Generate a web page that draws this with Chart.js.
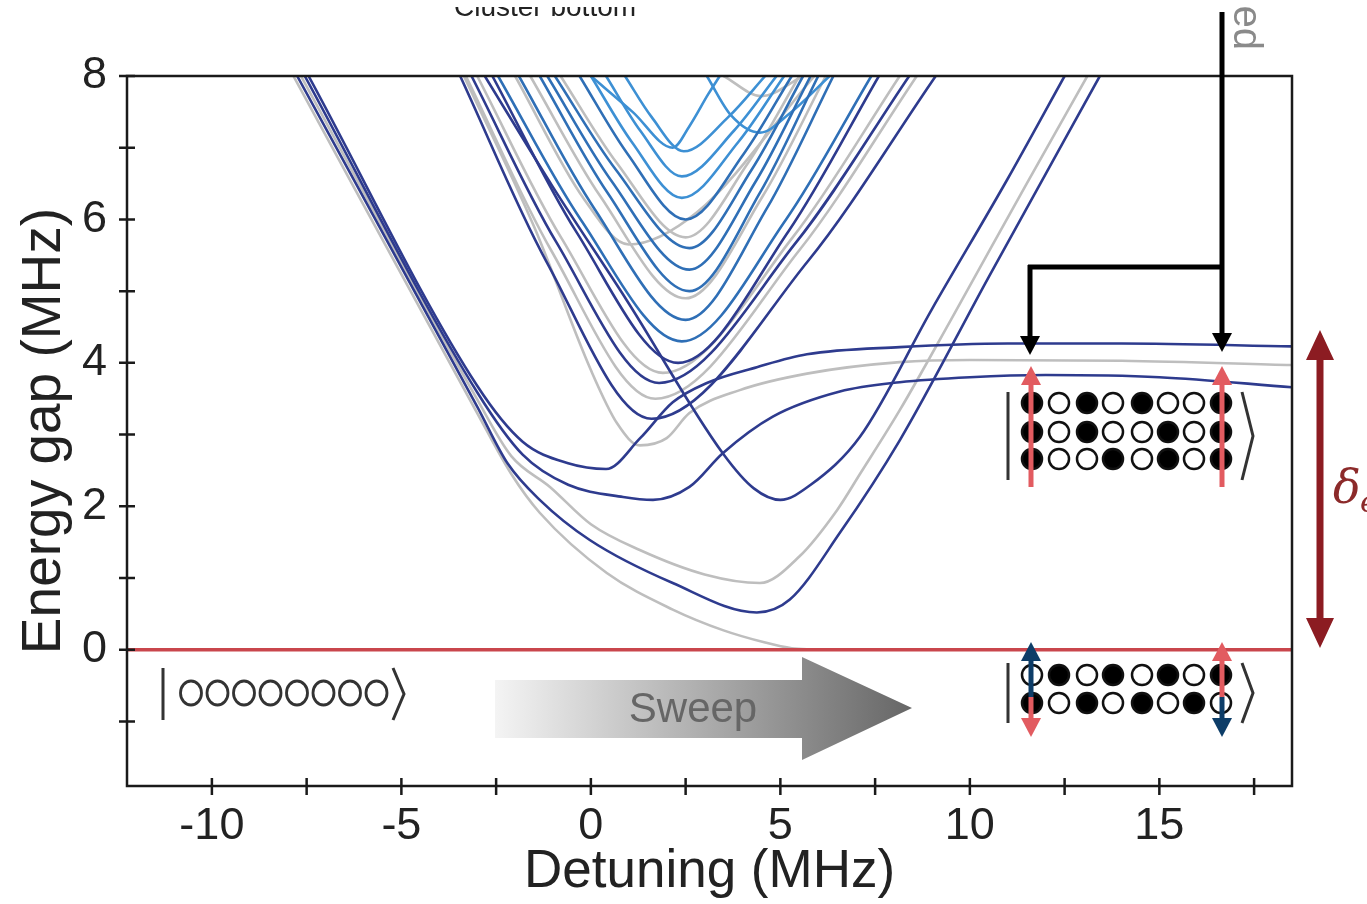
<!DOCTYPE html>
<html>
<head>
<meta charset="utf-8">
<script src="https://cdn.jsdelivr.net/npm/chart.js@4/dist/chart.umd.min.js"></script>
<style>
  html, body { margin: 0; padding: 0; background: #fff; }
  canvas { display: block; }
</style>
</head>
<body>
<canvas id="gap" width="1367" height="904"></canvas>
<script>
// detuning (MHz) -> energy gap (MHz)
const groundState = [[-12.24, 0], [18.5, 0]];

const plateauTop = [[-7.45, 8], [-3, 3.68], [-1.8, 2.9], [-0.6, 2.6], [0.4, 2.52], [1.3, 2.95], [2.16, 3.45],
  [3.06, 3.72], [4.38, 3.94], [5.7, 4.12], [8.15, 4.22], [11, 4.27], [14, 4.27], [18.5, 4.23]];
const plateauMid = [[-3.35, 8], [-1.5, 5.9], [0, 3.9], [0.7, 3.15], [1.29, 2.85], [2, 2.95], [2.6, 3.3],
  [3.93, 3.62], [5.7, 3.85], [8.15, 4.01], [10, 4.04], [14, 4.03], [18.5, 3.97]];
const plateauLow = [[-7.55, 8], [-3, 3.59], [-1.8, 2.72], [-0.6, 2.3], [0.85, 2.13], [1.64, 2.09], [2.6, 2.27],
  [3.48, 2.74], [4.8, 3.25], [6.57, 3.6], [8.15, 3.73], [10, 3.8], [12, 3.83], [15, 3.8], [18.5, 3.66]];
const gapLowest = [[-7.75, 8], [-3, 3.39], [-2.2, 2.6], [-1.35, 2.09], [-0.03, 1.53], [2.16, 0.93], [4.38, 0.52],
  [5.25, 0.7], [6.57, 1.63], [8.15, 2.92], [10.5, 5.2], [13.43, 8]];
const gapGrey = [[-7.65, 8], [-3, 3.49], [-2.1, 2.7], [-1.08, 2.27], [0, 1.75], [1.29, 1.39], [3, 1.05], [4.46, 0.93],
  [5.5, 1.3], [6.5, 1.95], [7.1, 2.45], [8.15, 3.34], [9.5, 4.6], [11.5, 6.5], [13.1, 8]];
const greyToZero = [[-7.85, 8], [-3, 3.3], [-2.1, 2.45], [-1.35, 1.91], [0.42, 1.07], [2.16, 0.56], [3.5, 0.27],
  [4.6, 0.1], [5.3, 0.02], [5.9, 0]];
const crossing = [[-2.8, 8], [-1, 6.45], [0.95, 4.87], [3.48, 2.74], [4.3, 2.25], [5, 2.09], [5.8, 2.3],
  [7.1, 2.97], [9, 4.75], [10.98, 6.55], [12.5, 8]];

const clusterNavy = [
  [[-3.45, 8], [-1.18, 5.42], [1.6, 3.22], [5.73, 5.42], [9.1, 8]],
  [[-3.15, 8], [-0.92, 5.69], [1.8, 3.72], [5.43, 5.69], [8.4, 8]],
  [[-2.6, 8], [-0.4, 5.84], [2.3, 4.0], [5.22, 5.84], [7.6, 8]],
];
const clusterGrey = [
  [[-3.3, 8], [-1.05, 5.57], [1.7, 3.5], [5.5, 5.57], [8.6, 8]],
  [[-3.0, 8], [-0.8, 5.76], [1.9, 3.86], [5.34, 5.76], [8.15, 8]],
  [[-1.6, 8], [0.24, 6.33], [2.5, 4.9], [4.54, 6.33], [6.2, 8]],
  [[-2.0, 8], [-0.2, 6.3], [1.0, 5.65], [2.8, 6.1], [5.9, 8]],
  [[-0.8, 8], [0.68, 6.79], [2.5, 5.75], [4.15, 6.79], [5.5, 8]],
  [[3.5, 8], [4.5, 7.72], [5.6, 8]],
];
const clusterBlue = [
  [[-2.45, 8], [-0.27, 6.0], [2.4, 4.3], [5.15, 6.0], [7.4, 8]],
  [[-1.9, 8], [0.08, 6.16], [2.5, 4.6], [4.65, 6.16], [6.4, 8]],
  [[-1.35, 8], [0.43, 6.38], [2.6, 5.0], [4.47, 6.38], [6.0, 8]],
  [[-1.15, 8], [0.54, 6.54], [2.6, 5.3], [4.36, 6.54], [5.8, 8]],
  [[-0.95, 8], [0.65, 6.7], [2.6, 5.6], [4.25, 6.7], [5.6, 8]],
  [[-0.3, 8], [0.96, 6.92], [2.5, 6.0], [4.04, 6.92], [5.3, 8]],
];
const clusterLight = [
  [[0, 8], [1.08, 7.08], [2.4, 6.3], [3.89, 7.08], [5.1, 8]],
  [[0.4, 8], [1.3, 7.24], [2.4, 6.6], [3.78, 7.24], [4.9, 8]],
  [[0.9, 8], [1.6, 7.43], [2.45, 6.95], [3.63, 7.43], [4.6, 8]],
  [[0, 8], [1.1, 7.5], [2.16, 7.0], [2.6, 7.3], [3.1, 7.75], [3.4, 8]],
  [[3.06, 8], [3.7, 7.45], [4.46, 7.21], [5.25, 7.48], [6.3, 8]],
];

const xTickStep = 2.5;
const yTickStep = 1;

const NAVY = "#2e3b8e", BLUE = "#2f6fb6", LIGHT = "#3d90d4", GREY = "#bebebe", RED = "#c9464c";
const FONT = "'Liberation Sans', Arial, Helvetica, sans-serif";

const line = (pairs, color, order, width = 2.6) => ({
  data: pairs.map(([x, y]) => ({ x, y })),
  borderColor: color,
  borderWidth: width,
  pointRadius: 0,
  cubicInterpolationMode: "monotone",
  fill: false,
  order,
});

const datasets = [
  line(groundState, RED, 0, 3.5),
  line(plateauTop, NAVY, 1),
  line(plateauLow, NAVY, 1),
  line(gapLowest, NAVY, 1),
  line(crossing, NAVY, 1),
  ...clusterNavy.map((c) => line(c, NAVY, 2)),
  ...clusterBlue.map((c) => line(c, BLUE, 3)),
  ...clusterLight.map((c) => line(c, LIGHT, 3)),
  line(plateauMid, GREY, 4),
  line(gapGrey, GREY, 4),
  line(greyToZero, GREY, 4),
  ...clusterGrey.map((c) => line(c, GREY, 5)),
];

const arrowHead = (ctx, x, tipY, dir, half, len, color) => {
  ctx.fillStyle = color;
  ctx.beginPath();
  ctx.moveTo(x, tipY);
  ctx.lineTo(x - half, tipY - dir * len);
  ctx.lineTo(x + half, tipY - dir * len);
  ctx.closePath();
  ctx.fill();
};

const vArrow = (ctx, x, fromY, tipY, color, width = 5) => {
  const dir = tipY > fromY ? 1 : -1;
  ctx.strokeStyle = color;
  ctx.lineWidth = width;
  ctx.beginPath();
  ctx.moveTo(x, fromY);
  ctx.lineTo(x, tipY - dir * 14);
  ctx.stroke();
  arrowHead(ctx, x, tipY, dir, 10, 19, color);
};

const ket = (ctx, left, right, top, bottom) => {
  ctx.strokeStyle = "#333";
  ctx.lineWidth = 3;
  ctx.beginPath();
  ctx.moveTo(left, top);
  ctx.lineTo(left, bottom);
  ctx.moveTo(right, top);
  ctx.lineTo(right + 11, (top + bottom) / 2);
  ctx.lineTo(right, bottom);
  ctx.stroke();
};

const atomRows = (ctx, xs, ys, rows) => {
  ctx.lineWidth = 2.5;
  ctx.strokeStyle = "#111";
  rows.forEach((row, r) => {
    row.split("").forEach((c, i) => {
      ctx.beginPath();
      ctx.arc(xs[i], ys[r], 10, 0, Math.PI * 2);
      ctx.fillStyle = c === "1" ? "#000" : "#fff";
      ctx.fill();
      ctx.stroke();
    });
  });
};

const decorations = {
  id: "decorations",
  afterDatasetsDraw(chart) {
    const { ctx, chartArea: a, scales } = chart;
    ctx.save();

    // frame and crossing ticks
    ctx.strokeStyle = "#1a1a1a";
    ctx.lineWidth = 2.5;
    ctx.strokeRect(a.left, a.top, a.right - a.left, a.bottom - a.top);
    ctx.beginPath();
    scales.x.ticks.forEach((t) => {
      const px = scales.x.getPixelForValue(t.value);
      ctx.moveTo(px, a.bottom - 8);
      ctx.lineTo(px, a.bottom + 9);
    });
    scales.y.ticks.forEach((t) => {
      const py = scales.y.getPixelForValue(t.value);
      ctx.moveTo(a.left - 8, py);
      ctx.lineTo(a.left + 8, py);
    });
    ctx.stroke();

    // |oooooooo>
    ket(ctx, 163, 393, 668, 720);
    ctx.strokeStyle = "#333";
    ctx.lineWidth = 2.8;
    for (let i = 0; i < 8; i++) {
      ctx.beginPath();
      ctx.ellipse(191 + i * 26.5, 693, 10.5, 12, 0, 0, Math.PI * 2);
      ctx.stroke();
    }

    // sweep arrow
    const g = ctx.createLinearGradient(495, 0, 912, 0);
    g.addColorStop(0, "#f4f4f4");
    g.addColorStop(1, "#666");
    ctx.fillStyle = g;
    ctx.beginPath();
    ctx.moveTo(495, 680);
    ctx.lineTo(802, 680);
    ctx.lineTo(802, 657);
    ctx.lineTo(912, 708);
    ctx.lineTo(802, 760);
    ctx.lineTo(802, 738);
    ctx.lineTo(495, 738);
    ctx.closePath();
    ctx.fill();
    ctx.fillStyle = "#666";
    ctx.font = `42px ${FONT}`;
    ctx.textAlign = "center";
    ctx.textBaseline = "middle";
    ctx.fillText("Sweep", 693, 710);

    // excited-state kets
    const xs = [1032, 1059, 1087, 1113, 1142, 1168, 1194, 1221];
    ket(ctx, 1008, 1242, 392, 480);
    atomRows(ctx, xs, [403, 432, 459], ["10101001", "10100101", "10010101"]);
    vArrow(ctx, 1031, 487, 366, "#e25b60");
    vArrow(ctx, 1222, 487, 366, "#e25b60");

    ket(ctx, 1008, 1242, 663, 723);
    atomRows(ctx, xs, [675, 703], ["01010101", "10101010"]);
    vArrow(ctx, 1031, 697, 642, "#0d3d68");
    vArrow(ctx, 1031, 697, 737, "#e25b60");
    vArrow(ctx, 1222, 697, 642, "#e25b60");
    vArrow(ctx, 1222, 697, 737, "#0d3d68");

    // black bracket
    ctx.strokeStyle = "#000";
    ctx.lineWidth = 5;
    ctx.beginPath();
    ctx.moveTo(1222, 12);
    ctx.lineTo(1222, 338);
    ctx.moveTo(1028, 267);
    ctx.lineTo(1224, 267);
    ctx.moveTo(1030, 265);
    ctx.lineTo(1030, 340);
    ctx.stroke();
    arrowHead(ctx, 1030, 355, 1, 10, 19, "#000");
    arrowHead(ctx, 1222, 352, 1, 10, 19, "#000");

    // delta_e double arrow
    ctx.strokeStyle = "#8c1c22";
    ctx.lineWidth = 7;
    ctx.beginPath();
    ctx.moveTo(1320, 352);
    ctx.lineTo(1320, 626);
    ctx.stroke();
    ctx.fillStyle = "#8c1c22";
    ctx.beginPath();
    ctx.moveTo(1320, 330); ctx.lineTo(1306, 360); ctx.lineTo(1334, 360); ctx.closePath();
    ctx.moveTo(1320, 648); ctx.lineTo(1306, 618); ctx.lineTo(1334, 618); ctx.closePath();
    ctx.fill();
    ctx.fillStyle = "#8c2a2a";
    ctx.textAlign = "left";
    ctx.textBaseline = "alphabetic";
    ctx.font = `italic 46px 'DejaVu Serif', 'Liberation Serif', serif`;
    ctx.fillText("δ", 1333, 503);
    ctx.font = `italic 30px 'DejaVu Serif', 'Liberation Serif', serif`;
    ctx.fillText("e", 1360, 512);

    // cut-off texts at the top
    ctx.save();
    ctx.beginPath();
    ctx.rect(400, 7, 300, 20);
    ctx.clip();
    ctx.fillStyle = "#222";
    ctx.font = `28px ${FONT}`;
    ctx.fillText("Cluster bottom", 454, 16);
    ctx.restore();
    ctx.save();
    ctx.translate(1234, 50);
    ctx.rotate(Math.PI / 2);
    ctx.fillStyle = "#8a8a8a";
    ctx.font = `40px ${FONT}`;
    ctx.textAlign = "right";
    ctx.fillText("ed", 0, 0);
    ctx.restore();

    ctx.restore();
  },
};

new Chart(document.getElementById("gap").getContext("2d"), {
  type: "line",
  data: { datasets },
  options: {
    responsive: false,
    animation: false,
    devicePixelRatio: 1,
    layout: { padding: { left: 0, top: 76, right: 75, bottom: 0 } },
    plugins: { legend: { display: false }, tooltip: { enabled: false } },
    scales: {
      x: {
        type: "linear",
        min: -12.24,
        max: 18.5,
        grid: { display: false },
        border: { display: false },
        ticks: {
          stepSize: xTickStep,
          includeBounds: false,
          autoSkip: false,
          maxRotation: 0,
          padding: 6,
          color: "#222",
          font: { family: FONT, size: 45 },
          callback: (v) => (v % 5 === 0 ? String(v) : ""),
        },
        title: { display: true, text: "Detuning (MHz)", color: "#222", font: { family: FONT, size: 53 }, padding: { top: 0, bottom: 0 } },
        afterFit: (s) => { s.height = 118; },
      },
      y: {
        min: -1.9,
        max: 8,
        grid: { display: false },
        border: { display: false },
        ticks: {
          stepSize: yTickStep,
          includeBounds: false,
          padding: 12,
          color: "#222",
          font: { family: FONT, size: 45 },
          callback: (v) => (v % 2 === 0 ? String(v) : ""),
        },
        title: { display: true, text: "Energy gap (MHz)", color: "#222", font: { family: FONT, size: 55 }, padding: { top: 12, bottom: 0 } },
        afterFit: (s) => { s.width = 127; },
      },
    },
  },
  plugins: [decorations],
});
</script>
</body>
</html>
